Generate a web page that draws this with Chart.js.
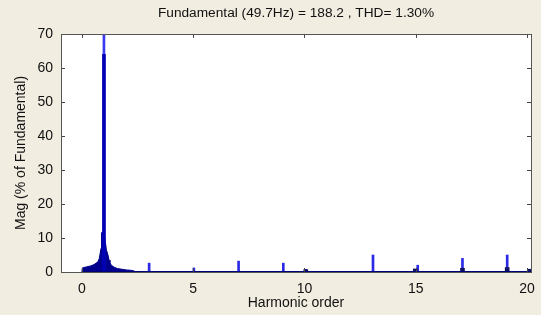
<!DOCTYPE html>
<html>
<head>
<meta charset="utf-8">
<script src="https://cdn.jsdelivr.net/npm/chart.js@4/dist/chart.umd.min.js"></script>
<style>
  html, body { margin: 0; padding: 0; background: #f1ede1; }
  #wrap { width: 541px; height: 315px; }
</style>
</head>
<body>
<div id="wrap"><canvas id="fft" width="541" height="315"></canvas></div>
<script>
// spectrum skirt around the fundamental (harmonic order, % of fundamental)
const skirtX = [0, 0.02, 0.2, 0.4, 0.55, 0.65, 0.72, 0.78, 0.82, 0.86, 0.88, 0.92, 0.97, 1.0, 1.05, 1.1, 1.17, 1.22, 1.26, 1.32, 1.45, 1.6, 1.8, 2.0, 2.2, 2.35, 2.37];
const skirtY = [0, 1.2, 1.5, 1.8, 2.2, 2.7, 3.0, 4.0, 5.5, 7.0, 11.5, 11.8, 11.8, 11.0, 9.0, 6.5, 5.0, 3.5, 2.8, 2.0, 1.4, 1.0, 0.8, 0.6, 0.5, 0.3, 0];

// fundamental line (clipped at the top of the axes) and the bin beside it
const fundX = [0.99];
const fundY = [100];
const fundBinY = [64];

// harmonic spikes
const harmX = [3.02, 5.03, 7.04, 9.05, 10.06, 13.08, 15.09, 17.1, 19.11, 20.12];
const harmY = [2.6, 1.2, 3.2, 2.6, 0.8, 5.0, 2.0, 4.0, 5.0, 0.8];

// small dark humps at the foot of some spikes
const humpX = [10.06, 14.98, 17.1, 19.11, 20.12];
const humpY = [0.7, 0.9, 1.1, 1.3, 0.8];

// zero line under the bars
const baseX = [0, 20.18];
const baseY = [0, 0];

const xTicks = [0, 5, 10, 15, 20];
const yTicks = [0, 10, 20, 30, 40, 50, 60, 70];

const titleText = "Fundamental (49.7Hz) = 188.2 , THD= 1.30%";
const xTitle = "Harmonic order";
const yTitle = "Mag (% of Fundamental)";

const FONT = "Liberation Sans, Arial, sans-serif";
const pts = (xs, ys) => xs.map((x, i) => ({ x: x, y: ys[i] }));

const boxPlugin = {
  id: "box",
  beforeDraw(chart) {
    const { ctx, chartArea: a } = chart;
    ctx.save();
    ctx.fillStyle = "#f1ede1";
    ctx.fillRect(0, 0, chart.width, chart.height);
    ctx.fillStyle = "#ffffff";
    ctx.fillRect(a.left, a.top, a.right - a.left, a.bottom - a.top);
    ctx.restore();
  },
  afterDraw(chart) {
    const { ctx, chartArea: a, scales } = chart;
    ctx.save();
    ctx.strokeStyle = "#444";
    ctx.lineWidth = 1;
    ctx.beginPath();
    // inward tick marks on all four sides, matlab style
    xTicks.forEach((v) => {
      const px = Math.round(scales.x.getPixelForValue(v)) + 0.5;
      ctx.moveTo(px, a.bottom); ctx.lineTo(px, a.bottom - 4);
      ctx.moveTo(px, a.top); ctx.lineTo(px, a.top + 4);
    });
    yTicks.forEach((v) => {
      const py = Math.round(scales.y.getPixelForValue(v)) + 0.5;
      ctx.moveTo(a.left, py); ctx.lineTo(a.left + 4, py);
      ctx.moveTo(a.right, py); ctx.lineTo(a.right - 4, py);
    });
    ctx.stroke();
    ctx.strokeStyle = "#555";
    ctx.strokeRect(Math.round(a.left) + 0.5, Math.round(a.top) + 0.5,
      Math.round(a.right - a.left), Math.round(a.bottom - a.top));
    ctx.restore();
  }
};

new Chart(document.getElementById("fft"), {
  type: "bar",
  data: {
    datasets: [
      {
        type: "line",
        data: pts(skirtX, skirtY),
        borderColor: "#00008c",
        backgroundColor: "#00008c",
        borderWidth: 1,
        pointRadius: 0,
        tension: 0,
        fill: "origin",
        order: 3
      },
      {
        type: "line",
        data: pts(baseX, baseY),
        borderColor: "#00007a",
        borderWidth: 2,
        pointRadius: 0,
        fill: false,
        order: 0
      },
      {
        data: pts(fundX, fundY),
        backgroundColor: "#3a3af0",
        barThickness: 2,
        grouped: false,
        order: 2
      },
      {
        data: pts(fundX, fundBinY),
        backgroundColor: "#0000b4",
        barThickness: 3,
        grouped: false,
        order: 1
      },
      {
        data: pts(harmX, harmY),
        backgroundColor: "#2a2ae6",
        barThickness: 2,
        grouped: false,
        order: 1
      },
      {
        data: pts(humpX, humpY),
        backgroundColor: "#101060",
        barThickness: 4,
        grouped: false,
        order: 0
      }
    ]
  },
  options: {
    responsive: false,
    animation: false,
    layout: { padding: { left: 0, right: 10, top: 0, bottom: 0 } },
    plugins: {
      legend: { display: false },
      tooltip: { enabled: false },
      title: {
        display: true,
        text: titleText,
        fullSize: false,
        color: "#111",
        font: { family: FONT, size: 13.7, weight: "normal", lineHeight: 1.2 },
        padding: { top: 5, bottom: 12.5 }
      }
    },
    scales: {
      x: {
        type: "linear",
        offset: false,
        min: -0.94,
        max: 20.18,
        grid: { display: false, offset: false, drawTicks: false, tickLength: 0 },
        border: { display: false },
        afterBuildTicks: (s) => { s.ticks = xTicks.map((v) => ({ value: v })); },
        afterFit: (s) => { s.height = 43; s.paddingLeft = 0; s.paddingRight = 0; },
        ticks: {
          color: "#111",
          padding: 9,
          font: { family: FONT, size: 14 }
        },
        title: {
          display: true,
          text: xTitle,
          color: "#111",
          padding: { top: 0, bottom: 3 },
          font: { family: FONT, size: 14 }
        }
      },
      y: {
        min: 0,
        max: 70,
        grid: { display: false, drawTicks: false, tickLength: 0 },
        border: { display: false },
        afterBuildTicks: (s) => { s.ticks = yTicks.map((v) => ({ value: v })); },
        afterFit: (s) => { s.width = 61; },
        ticks: {
          color: "#111",
          padding: 8,
          font: { family: FONT, size: 14 }
        },
        title: {
          display: true,
          text: yTitle,
          color: "#111",
          padding: { top: 13, bottom: 0 },
          font: { family: FONT, size: 14 }
        }
      }
    }
  },
  plugins: [boxPlugin]
});
</script>
</body>
</html>
